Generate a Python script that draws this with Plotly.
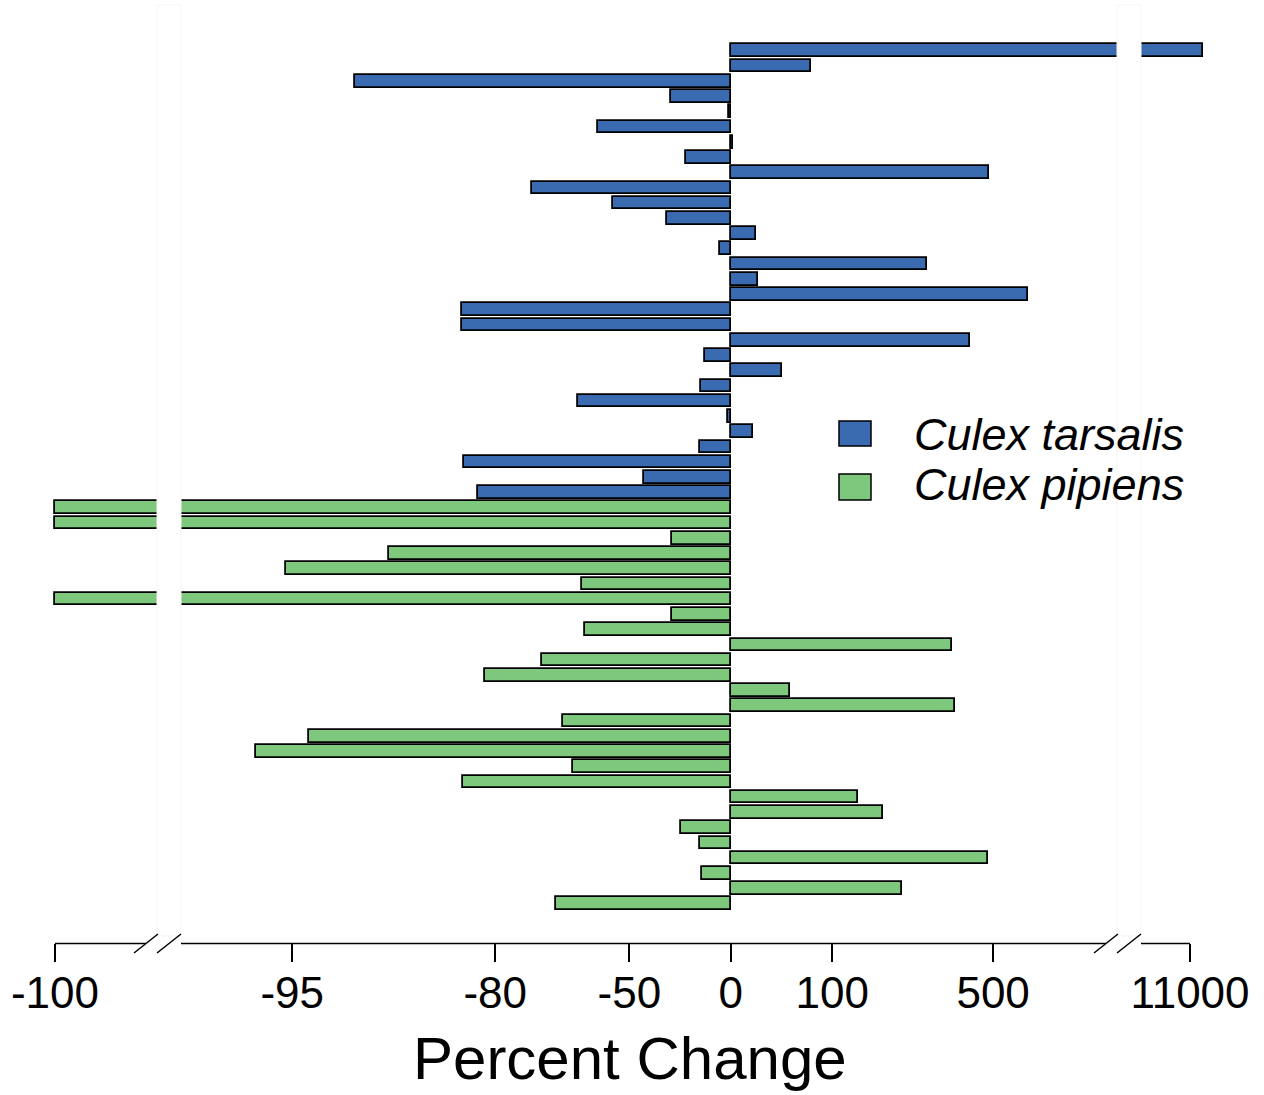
import math
import plotly.graph_objects as go

# ---- data (percent change) ----
tarsalis = [12000, 73, -92.3, -33.5, -1.1, -59.5, 1.4, -26.3, 482, -74.2,
            -55.4, -35.4, 18.4, -7.4, 283, 20.8, 662, -84.1, -84.1, 411,
            -15.9, 41.4, -18.5, -64.9, -1.6, 16.2, -18.9, -83.8, -44.7, -82.2]
pipiens = [-100, -100, -33.3, -90.3, -95.2, -63.7, -100, -33.3, -63.0, 352,
           -72.4, -81.4, 50.3, 361, -68.3, -94.4, -96.1, -65.9, -84.0, 138,
           182, -28.6, -18.7, 478, -17.6, 223, -69.8]
tick_values = [-100, -95, -80, -50, 0, 100, 500, 11000]
tick_labels = ["-100", "-95", "-80", "-50", "0", "100", "500", "11000"]
series_names = ["Culex tarsalis", "Culex pipiens"]
colors = ["#3a6bb1", "#7dc87d"]

# ---- broken log(1 + p/100) scale ----
PX0 = 730.8          # pixel of 0 %
PXDEC = 337.1        # pixels per decade
U_LEFT = (55 - PX0) / PXDEC      # position of -100 (broken segment)
U_RIGHT = (1190 - PX0) / PXDEC   # position of 11000 (broken segment)


def to_axis(v):
    if v <= -99.99:
        return U_LEFT
    r = math.log10(1 + v / 100.0)
    if v > 5000:
        return r - math.log10(111) + U_RIGHT
    return r


W, H = 1264, 1095
L, R, T, B = 30, 24, 30, 152
PW = W - L - R
PH = H - T - B
PB = T + PH


def xp(px):
    return (px - L) / PW


def yp(py):
    return (PB - py) / PH


SP = 15.232
Y0 = 50.8
n_all = len(tarsalis) + len(pipiens)
yr = [(PB - Y0) / SP, (T - Y0) / SP]

fig = go.Figure()
fig.add_trace(go.Bar(
    x=[to_axis(v) for v in tarsalis], y=list(range(len(tarsalis))),
    orientation="h", width=0.83, name=series_names[0],
    marker=dict(color=colors[0], line=dict(color="black", width=1.8)),
    showlegend=False))
fig.add_trace(go.Bar(
    x=[to_axis(v) for v in pipiens],
    y=list(range(len(tarsalis), n_all)),
    orientation="h", width=0.83, name=series_names[1],
    marker=dict(color=colors[1], line=dict(color="black", width=1.8)),
    showlegend=False))

font_family = "Liberation Sans, Arial, sans-serif"
shapes = []
# break gaps through bars
for a, b in [(157, 181), (1117, 1141)]:
    shapes.append(dict(type="rect", xref="paper", yref="paper",
                       x0=xp(a), x1=xp(b), y0=yp(936), y1=yp(5),
                       fillcolor="white", line=dict(color="#fcf3f3", width=1),
                       layer="above"))
# axis line segments
for a, b in [(55, 146), (181, 1106), (1141, 1190)]:
    shapes.append(dict(type="line", xref="paper", yref="paper",
                       x0=xp(a), x1=xp(b), y0=yp(943.5), y1=yp(943.5),
                       line=dict(color="black", width=1.5)))
# break slashes
for a in [134, 157, 1094, 1117]:
    shapes.append(dict(type="line", xref="paper", yref="paper",
                       x0=xp(a), x1=xp(a + 24), y0=yp(953), y1=yp(934),
                       line=dict(color="black", width=1.5)))
# legend boxes
for (y1, y2), c in zip([(421, 446), (474, 500)], colors):
    shapes.append(dict(type="rect", xref="paper", yref="paper",
                       x0=xp(839), x1=xp(871), y0=yp(y2), y1=yp(y1),
                       fillcolor=c, line=dict(color="black", width=1.5)))

annotations = []
for name, yc in zip(series_names, [434, 485]):
    annotations.append(dict(text="<i>%s</i>" % name, xref="paper", yref="paper",
                            x=xp(912), y=yp(yc), xanchor="left", yanchor="middle",
                            showarrow=False,
                            font=dict(family=font_family, size=45, color="black")))
annotations.append(dict(text="Percent Change", xref="paper", yref="paper",
                        x=xp(630), y=yp(1058), xanchor="center", yanchor="middle",
                        showarrow=False,
                        font=dict(family=font_family, size=60, color="black")))

fig.update_layout(
    width=W, height=H,
    margin=dict(l=L, r=R, t=T, b=B, pad=0),
    paper_bgcolor="white", plot_bgcolor="white",
    bargap=0,
    xaxis=dict(range=[(L - PX0) / PXDEC, (L + PW - PX0) / PXDEC],
               tickvals=[to_axis(v) for v in tick_values], ticktext=tick_labels,
               ticks="outside", ticklen=18, tickwidth=1.5, tickcolor="black",
               ticklabelstandoff=-7,
               showline=False, showgrid=False, zeroline=False,
               tickfont=dict(family=font_family, size=44, color="black")),
    yaxis=dict(range=yr, visible=False, showgrid=False, zeroline=False),
    shapes=shapes, annotations=annotations,
)

fig.write_html(
    "out.html",
    config={"displayModeBar": False},
    post_script="document.body.style.margin='0';document.body.style.overflow='hidden';",
)
